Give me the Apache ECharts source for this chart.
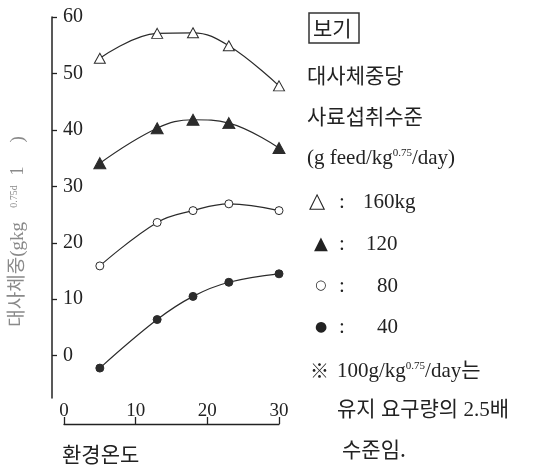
<!DOCTYPE html>
<html>
    <head>
        <meta charset="utf-8">
        <title>환경온도와 사료섭취수준</title>
        <script src="https://cdn.jsdelivr.net/npm/echarts@6/dist/echarts.min.js"></script>
        <style>
            html, body { margin: 0; padding: 0; background: #fff; }
            #chart1 { width: 538px; height: 467px; }
        </style>
    </head>
    <body>
        <div id="chart1"></div>
        <script type="text/javascript">
            // 환경온도 (x) 와 체중별 사료섭취수준 (y)
            var temps = [5, 13, 18, 23, 30];
            var w160 = [52.7, 57.1, 57.2, 54.9, 47.8];
            var w120 = [34.1, 40.3, 41.8, 41.2, 36.8];
            var w80 = [15.9, 23.6, 25.7, 26.9, 25.7];
            var w40 = [-2.2, 6.4, 10.5, 13.0, 14.5];
            var yTicks = [0, 10, 20, 30, 40, 50, 60];

            var legendSymbols = ['△', '▲', '○', '●'];
            var legendValues = ['160kg', '120', '80', '40'];
            var noteLines = ['대사체중당', '사료섭취수준'];

            var serif = '"Liberation Serif", "Noto Sans CJK KR", serif';
            var kor = '"Noto Sans CJK KR", sans-serif';
            var ink = '#222';

            function pairs(values) {
                return temps.map(function (t, i) { return [t, values[i]]; });
            }

            function line(name, values, symbol, filled, size) {
                return {
                    name: name,
                    type: 'line',
                    smooth: 0.4,
                    data: pairs(values),
                    symbol: symbol,
                    symbolSize: size,
                    showSymbol: true,
                    lineStyle: { color: '#2b2b2b', width: 1.2 },
                    itemStyle: {
                        color: filled ? '#2b2b2b' : '#fff',
                        borderColor: '#2b2b2b',
                        borderWidth: 1
                    }
                };
            }

            function txt(x, y, text, size, family, extra) {
                var style = {
                    text: text, fontSize: size, fontFamily: family,
                    fill: ink, verticalAlign: 'middle'
                };
                if (extra) { for (var k in extra) style[k] = extra[k]; }
                return { type: 'text', x: x, y: y, style: style };
            }

            var sup = { s: { fontSize: 11, fontFamily: serif, verticalAlign: 'top' } };

            var graphics = [
                { type: 'rect', shape: { x: 309, y: 13, width: 50, height: 30 },
                  style: { fill: 'none', stroke: '#333', lineWidth: 1.5 } },
                txt(313, 28, '보기', 21, kor),
                txt(307, 75, noteLines[0], 21, kor),
                txt(307, 116, noteLines[1], 21, kor),
                txt(307, 158, '(g feed/kg{s|0.75}/day)', 21, serif, { rich: sup }),
                txt(310, 371, '※', 19, kor),
                txt(337, 371, '100g/kg{s|0.75}/day는', 21, serif, { rich: sup }),
                txt(337, 410, '유지 요구량의 2.5배', 21, serif),
                txt(342, 449, '수준임.', 21, kor),
                txt(62, 454, '환경온도', 21, kor)
            ];
            var rowY = [202, 244, 286, 327];
            var symSize = [21, 18, 13, 14];
            var symX = [309, 314, 315, 315];
            var valX = [363, 366, 377, 377];
            for (var i = 0; i < legendSymbols.length; i++) {
                graphics.push(txt(symX[i], rowY[i], legendSymbols[i], symSize[i], '"DejaVu Sans", sans-serif'));
                graphics.push(txt(339, rowY[i], ':', 21, serif));
                graphics.push(txt(valX[i], rowY[i], legendValues[i], 21, serif));
            }

            var myChart1 = echarts.init(document.getElementById('chart1'));
            myChart1.setOption({
                animation: false,
                backgroundColor: '#fff',
                grid: { left: 64, right: 259, top: 17, bottom: 69, outerBoundsMode: 'none' },
                xAxis: {
                    type: 'value',
                    min: 0, max: 30, interval: 10,
                    offset: 26,
                    axisLine: { show: true, onZero: false, lineStyle: { color: '#222', width: 1.3 } },
                    axisTick: { show: true, inside: true, length: 7, lineStyle: { color: '#222', width: 1.3 } },
                    axisLabel: { inside: true, margin: 3, color: ink, fontSize: 19, fontFamily: serif },
                    splitLine: { show: false }
                },
                yAxis: {
                    type: 'value',
                    min: -7.5, max: 60,
                    offset: 12,
                    name: '대사체중(gkg   {s|0.75d}  1     )',
                    nameLocation: 'middle',
                    nameRotate: 90,
                    nameGap: 24,
                    nameTextStyle: {
                        color: '#8a8a8a', fontSize: 19, fontFamily: serif,
                        padding: [0, 48, 0, 0],
                        rich: { s: { fontSize: 10, fontFamily: serif, color: '#8a8a8a', verticalAlign: 'top' } }
                    },
                    axisLine: { show: true, onZero: false, lineStyle: { color: '#222', width: 1.5 } },
                    axisTick: { show: true, inside: true, length: 5, customValues: yTicks,
                                lineStyle: { color: '#222', width: 1.3 } },
                    axisLabel: { inside: true, margin: 11, customValues: yTicks,
                                 color: ink, fontSize: 20, fontFamily: serif },
                    splitLine: { show: false }
                },
                series: [
                    line('160kg', w160, 'triangle', false, [11, 10]),
                    line('120', w120, 'triangle', true, [12, 11]),
                    line('80', w80, 'circle', false, 8),
                    line('40', w40, 'circle', true, 8)
                ],
                graphic: graphics
            });
        </script>
    </body>
</html>
